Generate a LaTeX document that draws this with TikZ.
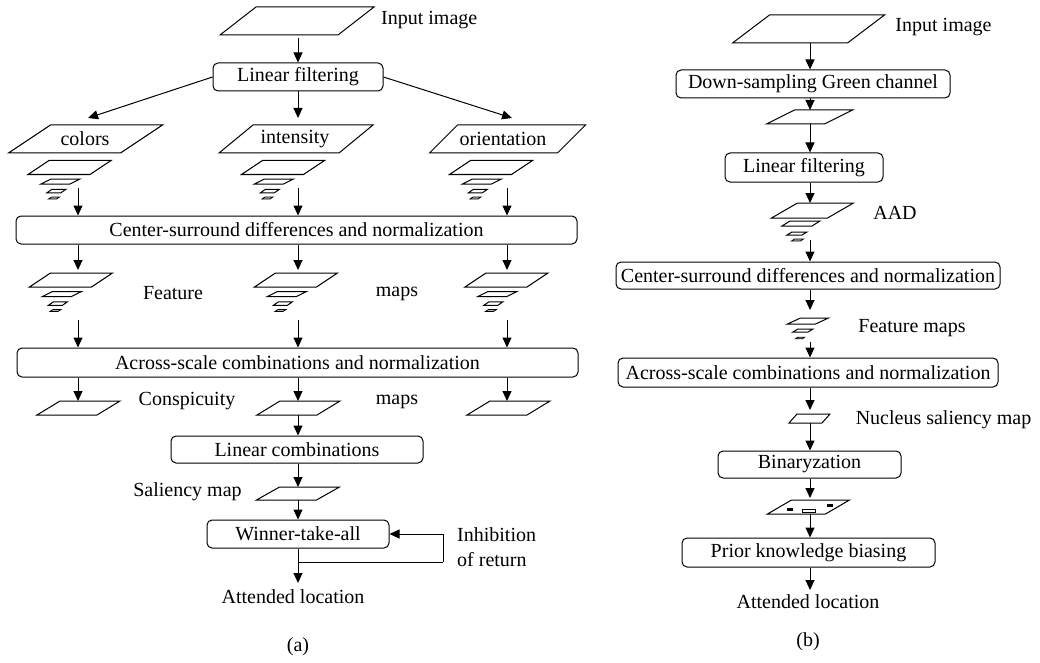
\documentclass[tikz,border=0pt]{standalone}
\usepackage{fontspec}
\setmainfont{Liberation Serif}
\usetikzlibrary{arrows.meta}
\tikzset{
  box/.style={draw, rounded corners=5pt, inner sep=0pt, line width=1pt},
  lbl/.style={inner sep=0pt},
  arr/.style={-{Triangle[length=10pt,width=9pt]}, line width=1pt},
  ln/.style={line width=1pt},
  pl/.style={line width=1pt, line join=miter},
}
% parallelogram: cx cy w h shear name
\newcommand\mypara[6]{%
  \draw[pl] ({#1-#3/2-#5/2},{#2+#4/2}) -- ++(#3,0) -- ++(#5,-#4) -- ++(-#3,0) -- cycle;
  \coordinate (#6) at (#1,#2);}
\newcommand\myparaf[6]{%
  \filldraw[pl, fill=gray!60, line width=0.8pt] ({#1-#3/2-#5/2},{#2+#4/2}) -- ++(#3,0) -- ++(#5,-#4) -- ++(-#3,0) -- cycle;
  \coordinate (#6) at (#1,#2);}
% pyramid stack: cx cy name
\newcommand\mystack[3]{%
  \mypara{#1}{#2}{62}{14}{21}{#3a}
  \mypara{#1-9}{#2+14}{29}{5}{10}{#3b}
  \mypara{#1-13}{#2+23.5}{14}{3.5}{5}{#3c}
  \myparaf{#1-15.5}{#2+30.5}{8}{2}{3}{#3d}}
\begin{document}
\begin{tikzpicture}[x=1pt, y=-1pt, font=\fontsize{20}{25}\selectfont]
\useasboundingbox (0,0) rectangle (1040,663);

% ================= (a) =================
\mypara{297}{21}{118}{28}{36}{inA}
\node[lbl, anchor=west] (inAt) at (381,20) {Input image};
\node[box, minimum width=170pt, minimum height=28pt] (lfA) at (298,77) {Linear filtering};
\coordinate (inAs) at (298,38);
\draw[arr] (inAs) -- (inAs |- lfA.north);

\coordinate (colT) at (88,118);
\coordinate (intT) at (298,118);
\coordinate (oriT) at (512,118);
\draw[arr] (lfA.west) -- (colT);
\draw[arr] (intT |- lfA.south) -- (intT);
\draw[arr] (lfA.east) -- (oriT);

\mypara{85.5}{139}{112}{28}{42}{colP}
\node[lbl] (colL) at (85,139) {colors};
\mypara{296}{139}{120}{28}{34}{intP}
\node[lbl] (intL) at (295,139) {intensity};
\mypara{507.5}{139}{128}{28}{28}{oriP}
\node[lbl] (oriL) at (503,139) {orientation};

\mystack{69.5}{167.5}{sa}
\mystack{283}{167.5}{sb}
\mystack{491}{167.5}{sc}

\node[box, minimum width=561pt, minimum height=28pt] (csA) at (296.5,230) {Center-surround differences and normalization};
\coordinate (s1) at (78,188);
\coordinate (s2) at (298,188);
\coordinate (s3) at (507,188);
\draw[arr] (s1) -- (s1 |- csA.north);
\draw[arr] (s2) -- (s2 |- csA.north);
\draw[arr] (s3) -- (s3 |- csA.north);

\coordinate (f1) at (78,270);
\coordinate (f2) at (298,270);
\coordinate (f3) at (507,270);
\draw[arr] (f1 |- csA.south) -- (f1);
\draw[arr] (f2 |- csA.south) -- (f2);
\draw[arr] (f3 |- csA.south) -- (f3);

\mystack{71}{280}{fa}
\mystack{296}{280}{fb}
\mystack{506.5}{280}{fc}
\node[lbl] (featL) at (173,293) {Feature};
\node[lbl] (mapsL) at (397,294) {maps};

\node[box, minimum width=561pt, minimum height=29pt] (asA) at (297.5,362.5) {Across-scale combinations and normalization};
\coordinate (g1) at (78,320);
\coordinate (g2) at (298,320);
\coordinate (g3) at (507,320);
\draw[arr] (g1) -- (g1 |- asA.north);
\draw[arr] (g2) -- (g2 |- asA.north);
\draw[arr] (g3) -- (g3 |- asA.north);

\coordinate (k1) at (78,401);
\coordinate (k2) at (298,401);
\coordinate (k3) at (507,401);
\draw[arr] (k1 |- asA.south) -- (k1);
\draw[arr] (k2 |- asA.south) -- (k2);
\draw[arr] (k3 |- asA.south) -- (k3);

\mypara{78.5}{408}{60}{14}{23}{cpa}
\mypara{298.5}{408}{60}{14}{23}{cpb}
\mypara{508.5}{408}{60}{14}{23}{cpc}
\node[lbl] (consL) at (187,401) {Conspicuity};
\node[lbl] (maps2L) at (397,402) {maps};

\node[box, minimum width=252pt, minimum height=27pt] (lcA) at (297,449.5) {Linear combinations};
\coordinate (cpbB) at (298,415);
\draw[arr] (cpbB) -- (cpbB |- lcA.north);

\coordinate (salT) at (298,487);
\draw[arr] (salT |- lcA.south) -- (salT);
\mypara{298}{493.5}{60}{13}{23}{salP}
\node[lbl] (salL) at (187.5,492) {Saliency map};

\node[box, minimum width=182pt, minimum height=28pt] (wtA) at (298,534) {Winner-take-all};
\coordinate (salB) at (298,500);
\draw[arr] (salB) -- (salB |- wtA.north);

\coordinate (attT) at (298,583);
\draw[arr] (attT |- wtA.south) -- (attT);
\node[lbl] (attA) at (293,597) {Attended location};

\coordinate (fbA) at (298,562);
\coordinate (fbB) at (443,562);
\draw[ln] (fbA) -- (fbB);
\draw[arr] (fbB) |- (wtA.east);
\node[lbl, anchor=west, align=left] (inhL) at (457,547.5) {Inhibition\\of return};

\node[lbl] (capA) at (298,647) {(a)};

% ================= (b) =================
\mypara{808.5}{29}{115}{28}{37}{inB}
\node[lbl] (inBt) at (943.5,27) {Input image};

\node[box, minimum width=274pt, minimum height=28pt] (dsB) at (813,84) {Down-sampling Green channel};
\coordinate (inBs) at (810,43);
\draw[arr] (inBs) -- (inBs |- dsB.north);

\coordinate (smT) at (810,110);
\draw[arr] (smT |- dsB.south) -- (smT);
\mypara{809.5}{117}{58}{14}{28}{smP}

\node[box, minimum width=158pt, minimum height=29pt] (lfB) at (804,167.5) {Linear filtering};
\coordinate (smB) at (810,124);
\draw[arr] (smB) -- (smB |- lfB.north);

\coordinate (aadT) at (810,203);
\draw[arr] (aadT |- lfB.south) -- (aadT);
\mypara{812.5}{210.5}{56}{15}{26}{aa}
\mypara{801}{223.5}{30}{5}{8}{ab}
\mypara{797}{233.5}{15}{3}{5}{ac}
\myparaf{797.5}{240}{9}{2}{3}{ad}
\node[lbl] (aadL) at (895,213) {AAD};

\node[box, minimum width=384pt, minimum height=27pt] (csB) at (808,275.5) {Center-surround differences and normalization};
\coordinate (aadB) at (810,240);
\draw[arr] (aadB) -- (aadB |- csB.north);

\coordinate (fmT) at (810,310);
\draw[arr] (fmT |- csB.south) -- (fmT);
\mypara{808}{321}{28}{6}{13}{fma}
\mypara{803}{330.5}{15}{3}{5}{fmb}
\myparaf{800}{338}{7}{1.5}{2}{fmc}
\node[lbl] (fmL) at (912,328) {Feature maps};

\node[box, minimum width=380pt, minimum height=29pt] (asB) at (808,372.5) {Across-scale combinations and normalization};
\coordinate (fmB) at (810,342);
\draw[arr] (fmB) -- (fmB |- asB.north);

\coordinate (nuT) at (810,410);
\draw[arr] (nuT |- asB.south) -- (nuT);
\mypara{809.5}{418.5}{33}{9}{8}{nuP}
\node[lbl] (nuL) at (943.5,420) {Nucleus saliency map};

\node[box, minimum width=183pt, minimum height=27pt] (biB) at (809.5,464.5) {Binaryzation};
\coordinate (nuB) at (810,423);
\draw[arr] (nuB) -- (nuB |- biB.north);

\coordinate (bpT) at (810,498);
\draw[arr] (bpT |- biB.south) -- (bpT);
\mypara{808.5}{507}{58}{14}{24}{bpP}
\fill (787,508) rectangle (793,510.5);
\draw[line width=0.8pt] (802,509.5) rectangle (815,512.5);
\fill (827,504) rectangle (833,506.5);

\node[box, minimum width=253pt, minimum height=29pt] (pkB) at (808.5,552.5) {Prior knowledge biasing};
\coordinate (bpB) at (810,514);
\draw[arr] (bpB) -- (bpB |- pkB.north);

\coordinate (attBT) at (810,590);
\draw[arr] (attBT |- pkB.south) -- (attBT);
\node[lbl] (attB) at (808,602) {Attended location};

\node[lbl] (capB) at (808,642) {(b)};
\end{tikzpicture}
\end{document}
